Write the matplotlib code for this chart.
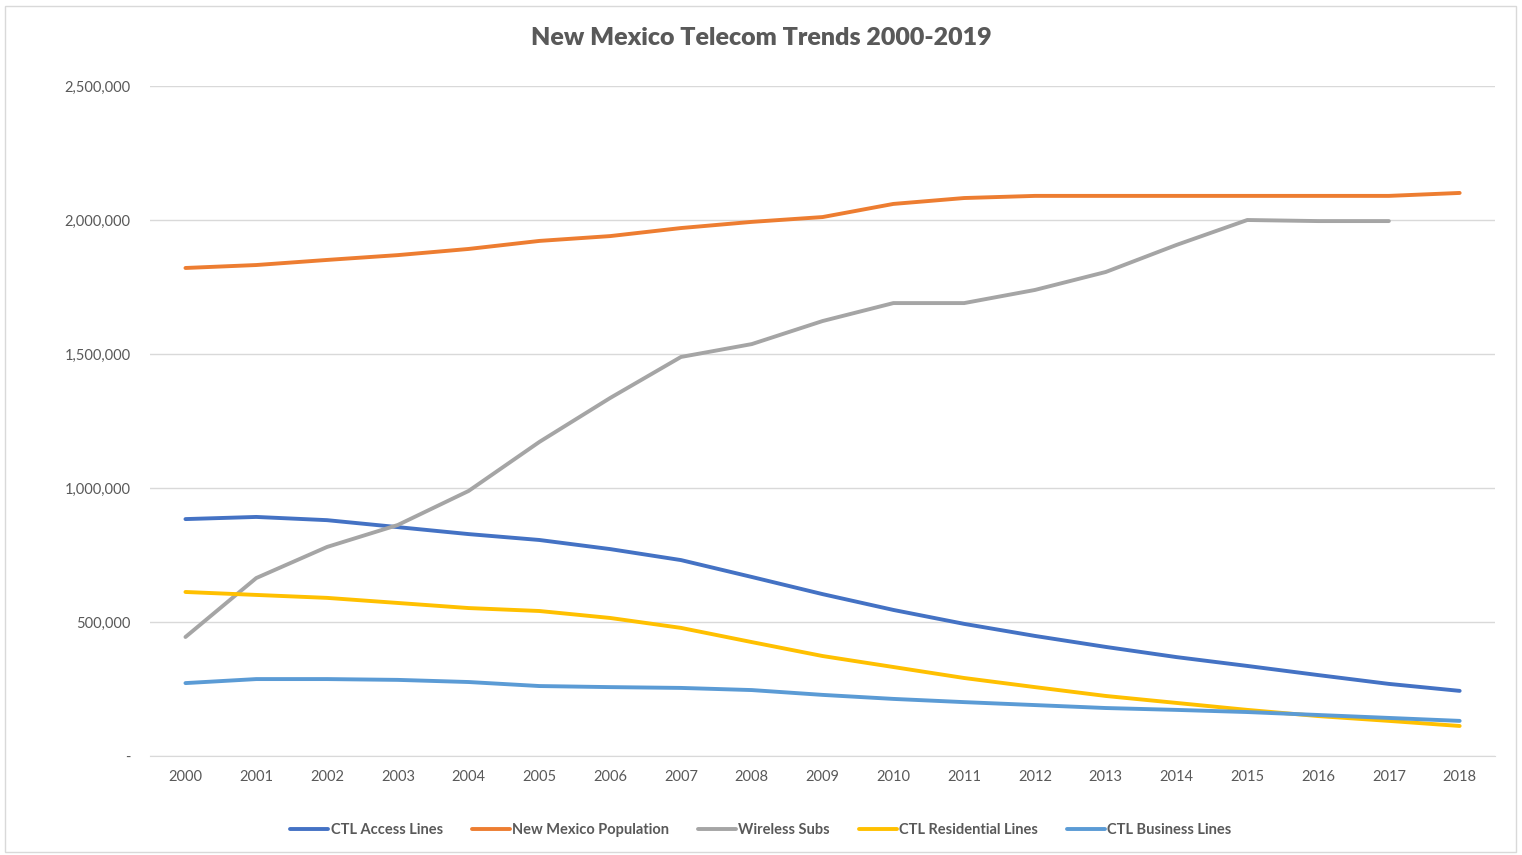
import matplotlib
matplotlib.use("Agg")
import matplotlib.pyplot as plt
from matplotlib.ticker import FuncFormatter
from matplotlib.patches import Rectangle

plt.rcParams['font.family'] = ['Lato', 'DejaVu Sans']

years = [str(y) for y in range(2000, 2019)]

access_lines = [884000, 892000, 880000, 854000, 828000, 806000, 772000, 731000, 668000, 604000,
                545000, 493000, 448000, 407000, 369000, 336000, 302000, 269000, 243000]
population = [1821000, 1832000, 1851000, 1869000, 1892000, 1922000, 1940000, 1970000, 1993000, 2011000,
              2060000, 2082000, 2090000, 2090000, 2090000, 2090000, 2090000, 2090000, 2101000]
wireless = [444000, 664000, 780000, 862000, 989000, 1172000, 1336000, 1489000, 1537000, 1623000,
            1690000, 1690000, 1739000, 1806000, 1907000, 2000000, 1996000, 1996000, None]
residential = [612000, 601000, 590000, 571000, 552000, 541000, 515000, 478000, 425000, 373000,
               332000, 291000, 257000, 224000, 198000, 172000, 149000, 131000, 112000]
business = [272000, 287000, 287000, 284000, 276000, 261000, 257000, 254000, 246000, 228000,
            213000, 201000, 190000, 179000, 172000, 164000, 153000, 142000, 131000]

series = [
    ("CTL Access Lines", access_lines, "#4472C4"),
    ("New Mexico Population", population, "#ED7D31"),
    ("Wireless Subs", wireless, "#A5A5A5"),
    ("CTL Residential Lines", residential, "#FFC000"),
    ("CTL Business Lines", business, "#5B9BD5"),
]

fig = plt.figure(figsize=(15.22, 8.55), dpi=100)
ax = fig.add_axes([0.0986, 0.1158, 0.8837, 0.7836])

x = list(range(len(years)))
for name, vals, col in series:
    xs = [i for i, v in zip(x, vals) if v is not None]
    ys = [v for v in vals if v is not None]
    ax.plot(xs, ys, color=col, lw=2.8, label=name, solid_joinstyle='round', solid_capstyle='round')

ax.set_xlim(-0.5, len(years) - 0.5)
ax.set_ylim(0, 2500000)
ax.set_yticks(range(0, 2500001, 500000))
ax.yaxis.set_major_formatter(FuncFormatter(lambda v, p: '-' if v == 0 else f'{v:,.0f}'))
ax.set_xticks(x)
ax.set_xticklabels(years)
ax.grid(axis='y', color='#D9D9D9', lw=1)
ax.set_axisbelow(True)
for s in ['top', 'right', 'left']:
    ax.spines[s].set_visible(False)
ax.spines['bottom'].set_color('#D9D9D9')
ax.tick_params(axis='both', length=0, colors='#595959', labelsize=10.5)
ax.tick_params(axis='y', pad=14)
ax.tick_params(axis='x', pad=10)

fig.text(0.5, 0.955, "New Mexico Telecom Trends 2000-2019", ha='center', va='center',
         fontsize=18, fontweight='heavy', color='#595959')

leg = fig.legend(loc='center', bbox_to_anchor=(0.5, 0.029), ncol=5, frameon=False,
                 fontsize=10.5, handlelength=2.6, handletextpad=0.15, columnspacing=2.0)
for t in leg.get_texts():
    t.set_color('#595959')
    t.set_fontweight('bold')

fig.patches.append(Rectangle((0.003, 0.003), 0.993, 0.99, transform=fig.transFigure,
                             fill=False, edgecolor='#D9D9D9', lw=1))

fig.savefig("out.png", dpi=100, facecolor='white')
